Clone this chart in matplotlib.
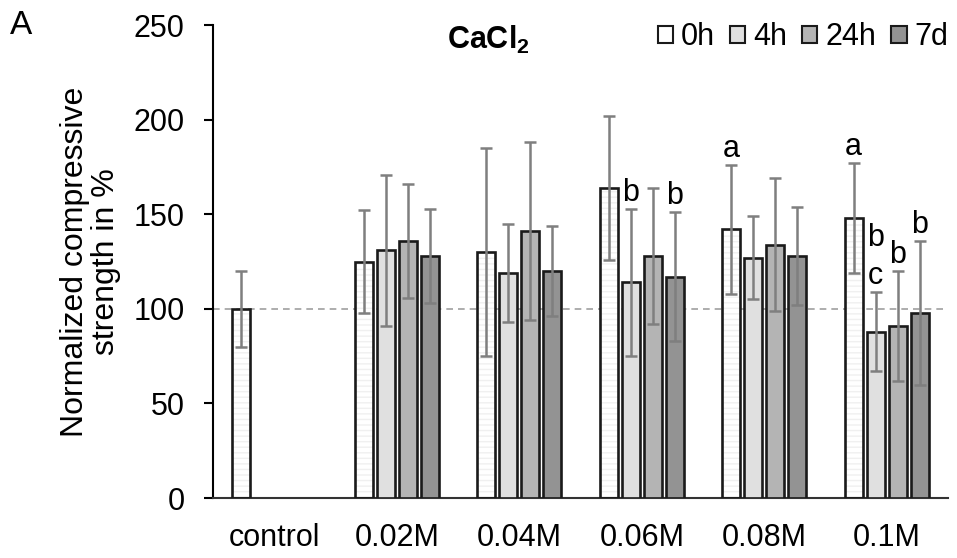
import numpy as np
import matplotlib
matplotlib.use("Agg")
import matplotlib.pyplot as plt
from matplotlib.patches import Patch

plt.rcParams['font.family'] = ['Liberation Sans', 'DejaVu Sans']
plt.rcParams['mathtext.fontset'] = 'custom'
plt.rcParams['mathtext.bf'] = 'Liberation Sans:bold'
plt.rcParams['mathtext.rm'] = 'Liberation Sans'

categories = ['control', '0.02M', '0.04M', '0.06M', '0.08M', '0.1M']
series = ['0h', '4h', '24h', '7d']

# mean values (% of control), NaN = no bar
vals_0h = [100, 125, 130, 164, 142, 148]
vals_4h = [np.nan, 131, 119, 114, 127, 88]
vals_24h = [np.nan, 136, 141, 128, 134, 91]
vals_7d = [np.nan, 128, 120, 117, 128, 98]

err_0h = [20, 27, 55, 38, 34, 29]
err_4h = [np.nan, 40, 26, 39, 22, 21]
err_24h = [np.nan, 30, 47, 36, 35, 29]
err_7d = [np.nan, 25, 24, 34, 26, 38]

# significance letters: (category index, series index, text)
letters = [(3, 1, 'b'), (3, 3, 'b'), (4, 0, 'a'),
           (5, 0, 'a'), (5, 1, 'c'), (5, 1, 'b'), (5, 2, 'b'), (5, 3, 'b')]

values = [vals_0h, vals_4h, vals_24h, vals_7d]
errors = [err_0h, err_4h, err_24h, err_7d]
colors = ['white', '#e0e0e0', '#b4b4b4', '#939393']

FS = 22

fig = plt.figure(figsize=(9.57, 5.58), dpi=100)
ax = fig.add_axes([0.2226, 0.1075, 0.768, 0.8475])

x = np.arange(len(categories))
width = 0.147
step = 0.18
offsets = (np.arange(4) - 1.5) * step

ax.axhline(100, color='#a0a0a0', lw=1.2, ls=(0, (4, 3)), zorder=1)

for i in range(4):
    pos = x + offsets[i]
    if i == 0:
        # faint horizontal hatch inside the white bars
        ax.bar(pos, values[i], width, color='white', edgecolor='#f0f0f0',
               hatch='---', linewidth=0, zorder=2)
        ax.bar(pos, values[i], width, fill=False, edgecolor='#1a1a1a',
               linewidth=1.9, zorder=3)
    else:
        ax.bar(pos, values[i], width, color=colors[i], edgecolor='#1a1a1a',
               linewidth=1.9, zorder=3)
    ax.errorbar(pos, values[i], yerr=errors[i], fmt='none', ecolor='#7f7f7f',
                elinewidth=1.8, capsize=4.5, capthick=1.8, zorder=4)

# letters above the error bars
stacked = {}
for ci, si, txt in letters:
    top = values[si][ci] + errors[si][ci]
    n = stacked.get((ci, si), 0)
    stacked[(ci, si)] = n + 1
    ax.text(x[ci] + offsets[si], top + 0.5 + n * 20, txt, ha='center', va='bottom',
            fontsize=FS)

ax.set_xlim(-0.5, 5.5)
ax.set_ylim(0, 250)
ax.set_yticks([0, 50, 100, 150, 200, 250])
ax.set_xticks(x)
ax.set_xticklabels(categories)
ax.tick_params(axis='x', length=0, pad=18, labelsize=FS)
ax.tick_params(axis='y', length=6.5, width=1.5, pad=14, labelsize=FS)
ax.spines['top'].set_visible(False)
ax.spines['right'].set_visible(False)
ax.spines['left'].set_linewidth(1.5)
ax.spines['bottom'].set_linewidth(1.5)
ax.spines['bottom'].set_color('#333333')

ax.set_ylabel('Normalized compressive\nstrength in %', fontsize=23, labelpad=9,
              linespacing=1.05)

ax.text(0.374, 0.968, r'$\mathbf{CaCl_2}$', transform=ax.transAxes, ha='center',
        va='center', fontsize=FS)
fig.text(0.01, 0.955, 'A', fontsize=24, va='center')

handles = [Patch(facecolor=colors[i], edgecolor='#1a1a1a', linewidth=1.5)
           for i in range(4)]
leg = ax.legend(handles, series, loc='upper right', ncol=4, frameon=False,
                fontsize=FS, handlelength=0.5, handleheight=0.5, handletextpad=0.25,
                columnspacing=0.5, bbox_to_anchor=(1.025, 1.045), borderaxespad=0.2)

fig.savefig('out.png', dpi=100)
